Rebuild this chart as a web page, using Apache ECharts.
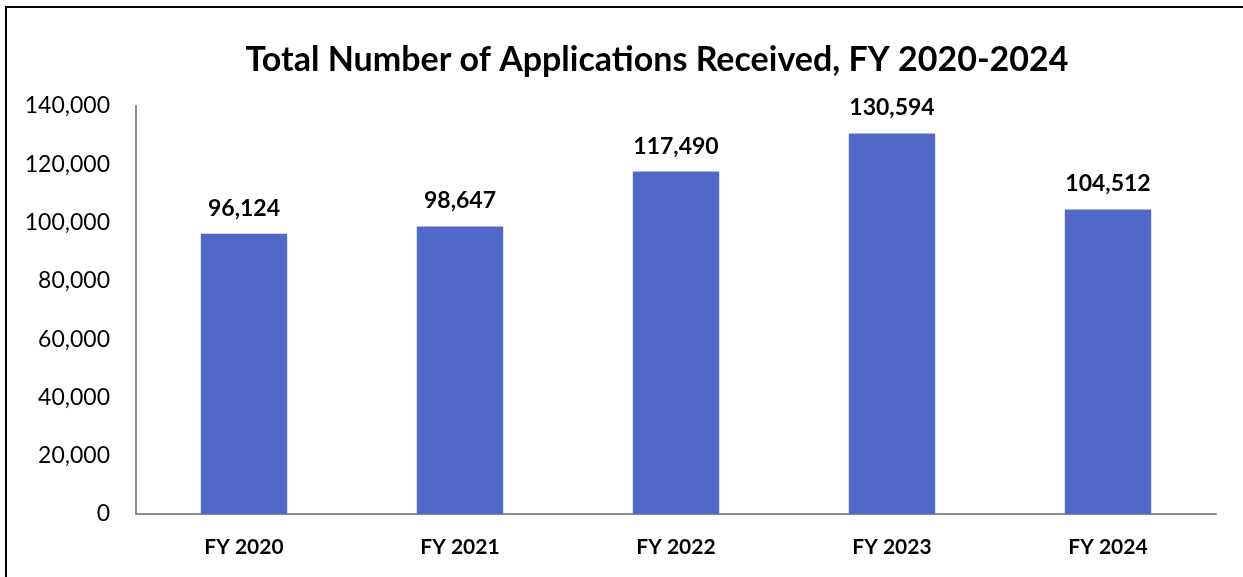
<!DOCTYPE html>
<html>
<head>
<meta charset="utf-8">
<script src="https://cdn.jsdelivr.net/npm/echarts@6/dist/echarts.min.js"></script>
<style>
  html, body { margin: 0; padding: 0; background: #fff; overflow: hidden; }
  #frame { position: absolute; left: 5px; top: 6px; width: 1300px; height: 700px; border: 2px solid #000; box-sizing: border-box; }
  #chart { position: absolute; left: 0; top: 0; width: 1243px; height: 577px; }
</style>
</head>
<body>
<div id="frame"></div>
<div id="chart"></div>
<script>
var years = ["FY 2020", "FY 2021", "FY 2022", "FY 2023", "FY 2024"];
var applications = [96124, 98647, 117490, 130594, 104512];

var fontName = "Lato";
var myChart = echarts.init(document.getElementById("chart"));
var option = {
  backgroundColor: "transparent",
  animation: false,
  title: {
    text: "Total Number of Applications Received, FY 2020-2024",
    left: 652,
    textAlign: "center",
    top: 38,
    textStyle: { fontFamily: fontName, fontSize: 34, fontWeight: "bold", color: "#000" },
  },
  grid: { left: 136, right: 27, top: 106, bottom: 63 },
  xAxis: {
    type: "category",
    data: years,
    axisLine: { lineStyle: { color: "#8c8c8c", width: 2 } },
    axisTick: { show: false },
    axisLabel: { fontFamily: fontName, fontSize: 21, fontWeight: "bold", color: "#000", margin: 23 },
  },
  yAxis: {
    type: "value",
    min: 0,
    max: 140000,
    interval: 20000,
    splitLine: { show: false },
    axisLine: { show: true, lineStyle: { color: "#8c8c8c", width: 2 } },
    axisTick: { show: false },
    axisLabel: {
      fontFamily: fontName, fontSize: 23, color: "#000", margin: 26,
      formatter: function (v) { return v.toLocaleString("en-US"); },
    },
  },
  series: [
    {
      type: "bar",
      data: applications,
      barWidth: "40%",
      itemStyle: { color: "#5068C8" },
      label: {
        show: true,
        position: "top",
        distance: 14,
        fontFamily: fontName,
        fontSize: 23,
        fontWeight: "bold",
        color: "#000",
        formatter: function (p) { return p.value.toLocaleString("en-US"); },
      },
    },
  ],
};
myChart.setOption(option, true);
</script>
</body>
</html>
